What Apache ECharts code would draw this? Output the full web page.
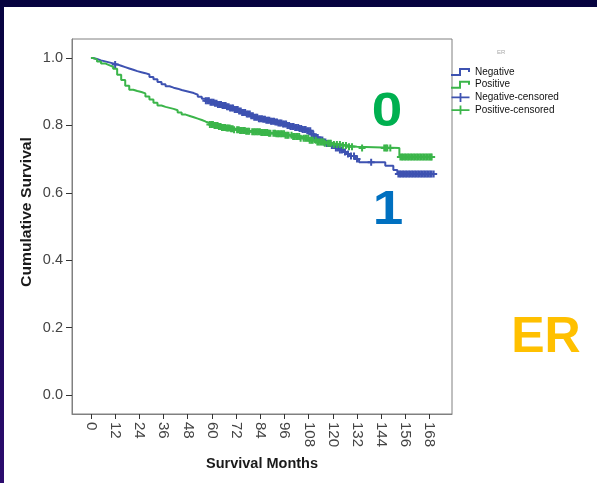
<!DOCTYPE html>
<html>
<head>
<meta charset="utf-8">
<script src="https://cdn.jsdelivr.net/npm/echarts@6/dist/echarts.min.js"></script>
<style>
html,body{margin:0;padding:0;background:#0a0442;}
#chart{width:597px;height:483px;}
</style>
</head>
<body>
<div id="chart"></div>
<script>
// ---- data ----
const xTicks = [0,12,24,36,48,60,72,84,96,108,120,132,144,156,168];
const yTicks = [0,0.2,0.4,0.6,0.8,1.0];

const negTimes = [0,1,3,5,7,9,11,13,15,17,19,21,23,25,27,29,31,33,35,37,39,41,43,45,47,49,51,53,55,57,59,61,63,65,67,69,71,73,75,77,79,81,83,85,87,89,91,93,95,97,99,101,103,105,107,109,111,113,115,117,119,121,123,125,127,129,131,133,146,150,152,170];
const negSurv  = [1.000,0.997,0.993,0.990,0.987,0.984,0.981,0.977,0.973,0.969,0.965,0.961,0.958,0.955,0.951,0.944,0.937,0.929,0.922,0.916,0.912,0.909,0.905,0.902,0.899,0.896,0.891,0.885,0.879,0.873,0.869,0.866,0.862,0.859,0.855,0.852,0.847,0.843,0.838,0.834,0.829,0.824,0.820,0.818,0.815,0.812,0.810,0.807,0.804,0.800,0.797,0.794,0.791,0.788,0.784,0.774,0.764,0.757,0.751,0.746,0.740,0.733,0.727,0.721,0.715,0.709,0.700,0.691,0.680,0.668,0.656,0.656];

const posTimes = [0,1,3,5,7,9,11,13,15,17,19,21,23,25,27,29,31,33,35,37,39,41,43,45,47,49,51,53,55,57,59,61,63,65,67,69,71,74,77,80,84,88,92,96,100,104,108,112,116,120,124,128,132,153,169];
const posSurv  = [1.000,0.996,0.990,0.984,0.979,0.974,0.968,0.950,0.935,0.918,0.906,0.902,0.899,0.895,0.886,0.877,0.867,0.859,0.855,0.852,0.849,0.845,0.838,0.832,0.828,0.824,0.820,0.816,0.811,0.807,0.803,0.800,0.797,0.794,0.792,0.790,0.787,0.785,0.783,0.781,0.779,0.777,0.775,0.771,0.767,0.762,0.756,0.751,0.747,0.743,0.740,0.737,0.733,0.706,0.706];

const negCensor = [12,57,57.8,58.5,59.3,60,60.8,61.5,62.3,63,63.8,64.5,65.3,66,66.8,67.5,68.3,69,69.8,70.5,71.3,72,72.8,73.5,74.3,75,75.8,76.5,77.3,78,78.8,79.5,80.3,81,81.8,82.5,83.3,84,84.8,85.5,86.3,87,87.8,88.5,89.3,90,90.8,91.5,92.3,93,93.8,94.5,95.3,96,96.8,97.5,98.3,99,99.8,100.5,101.3,102,102.8,103.5,104.3,105,105.8,106.5,107.3,108,108.8,109.5,110.3,111,111.8,112.5,113.3,114,114.8,115.5,116.3,117,117.8,118.5,119.5,120.5,121.5,122.5,123.5,124.5,126,127.5,129,130.5,132,139,152.5,153.3,154,154.8,155.5,156.3,157,157.8,158.5,159.3,160,160.8,161.5,162.3,163,163.8,164.5,165.3,166,166.8,167.5,168.3,169,170];
const posCensor = [59,59.8,60.5,61.3,62,62.8,63.5,64.3,65,65.8,66.5,67.3,68,68.8,69.5,70.3,71,72.5,73.3,74,74.8,75.5,76.3,77,77.8,78.5,80,80.8,81.5,82.3,83,83.8,84.5,85.3,86,86.8,87.5,88.3,89,90.5,91.3,92,92.8,93.5,94.3,95,95.8,96.5,97.3,98,99.5,100.3,101,101.8,102.5,103.3,104,105.5,106.3,107,107.8,108.5,109.3,110,111.5,112.3,113,113.8,114.5,115.3,116,117.5,118.3,119,120.5,122,123.5,125,126.5,128,129.5,134.5,145.5,146.3,147,148.5,153.5,154.3,155,155.8,156.5,157.3,158,158.8,159.5,160.3,161,161.8,162.5,163.3,164,164.8,165.5,166.3,167,167.8,168.5,169];

// ---- helpers ----
function pairs(t, s){ return t.map((v,i)=>[v, s[i]]); }
// Kaplan-Meier step lookup: survival value in effect at time t
function survivalAt(times, surv, t){
  let v = surv[0];
  for (let i=0;i<times.length;i++){ if (times[i] <= t) v = surv[i]; else break; }
  return v;
}
function censorPts(c, times, surv){ return c.map(t=>[t, survivalAt(times, surv, t)]); }

const BLUE = '#3e52b1';
const GREEN = '#3bb54a';
const plusPath = 'path://M-1,-3.5 H1 V-1 H3.5 V1 H1 V3.5 H-1 V1 H-3.5 V-1 H-1 Z';
const stepIcon = 'path://M0,7 H8 V1 H19 V5 H17 V3 H10 V9 H0 Z';
const plusIcon = 'path://M0,4 H20 V6 H0 Z M9,0 H11 V10 H9 Z';
const FONT = 'Liberation Sans, Arial, sans-serif';

const chart = echarts.init(document.getElementById('chart'), null, {renderer:'canvas'});
chart.setOption({
  animation: false,
  backgroundColor: {
    type:'linear', x:0, y:0, x2:0, y2:1,
    colorStops:[{offset:0,color:'#06033f'},{offset:1,color:'#2c0c6e'}]
  },
  graphic: [
    {type:'rect', z:-10, shape:{x:4, y:7, width:593, height:476}, style:{fill:'#ffffff'}},
    {type:'text', left:497, top:49, style:{text:'ER', fontSize:6, fill:'#aaaaaa', font:'6px '+FONT}},
    {type:'text', x:27, y:212, rotation:Math.PI/2, scaleX:1.12, style:{text:'Cumulative Survival', fill:'#1a1a1a', font:'bold 14px '+FONT, align:'center', verticalAlign:'middle'}},
    {type:'text', x:262, y:464, style:{text:'Survival Months', fill:'#1a1a1a', font:'bold 14.5px '+FONT, align:'center', verticalAlign:'middle'}},
    {type:'text', x:387, y:112, scaleX:1.12, style:{text:'0', fill:'#00b050', font:'bold 49px '+FONT, align:'center', verticalAlign:'middle'}},
    {type:'text', x:388, y:210, scaleX:1.12, style:{text:'1', fill:'#0070c0', font:'bold 49px '+FONT, align:'center', verticalAlign:'middle'}},
    {type:'text', x:546, y:338, style:{text:'ER', fill:'#ffc000', font:'bold 50px '+FONT, align:'center', verticalAlign:'middle'}}
  ],
  grid: {left:72, top:39, width:380, height:375, show:true, borderColor:'#808080', borderWidth:1, backgroundColor:'transparent'},
  legend: {
    left:451, top:66, orient:'vertical', padding:0, itemWidth:19, itemHeight:9, itemGap:0.7,
    textStyle:{fontSize:10, color:'#111', fontFamily:FONT, lineHeight:12},
    data:[
      {name:'Negative', icon:stepIcon},
      {name:'Positive', icon:stepIcon},
      {name:'Negative-censored', icon:plusIcon},
      {name:'Positive-censored', icon:plusIcon}
    ]
  },
  xAxis: {
    type:'value', min:-9.4, max:179.1,
    axisLine:{show:true, onZero:false, lineStyle:{color:'#808080'}},
    axisTick:{show:true, customValues:xTicks, length:5, lineStyle:{color:'#333'}},
    axisLabel:{customValues:xTicks, rotate:-90, margin:8, fontSize:15, color:'#444', fontFamily:FONT},
    splitLine:{show:false}
  },
  yAxis: {
    type:'value', min:-0.0564, max:1.0564,
    axisLine:{show:true, onZero:false, lineStyle:{color:'#808080'}},
    axisTick:{show:true, customValues:yTicks, length:6, lineStyle:{color:'#333'}},
    axisLabel:{customValues:yTicks, margin:9, fontSize:14.5, color:'#444', fontFamily:FONT, formatter:v=>v.toFixed(1)},
    splitLine:{show:false}
  },
  series: [
    {name:'Negative', type:'line', step:'end', data:pairs(negTimes,negSurv), showSymbol:false, symbol:'none', color:BLUE, lineStyle:{color:BLUE, width:2}, z:2},
    {name:'Positive', type:'line', step:'end', data:pairs(posTimes,posSurv), showSymbol:false, symbol:'none', color:GREEN, lineStyle:{color:GREEN, width:2}, z:3},
    {name:'Negative-censored', type:'scatter', data:censorPts(negCensor,negTimes,negSurv), symbol:plusPath, symbolSize:7, color:BLUE, itemStyle:{color:BLUE, opacity:1}, z:2},
    {name:'Positive-censored', type:'scatter', data:censorPts(posCensor,posTimes,posSurv), symbol:plusPath, symbolSize:7, color:GREEN, itemStyle:{color:GREEN, opacity:1}, z:3}
  ]
});
</script>
</body>
</html>
